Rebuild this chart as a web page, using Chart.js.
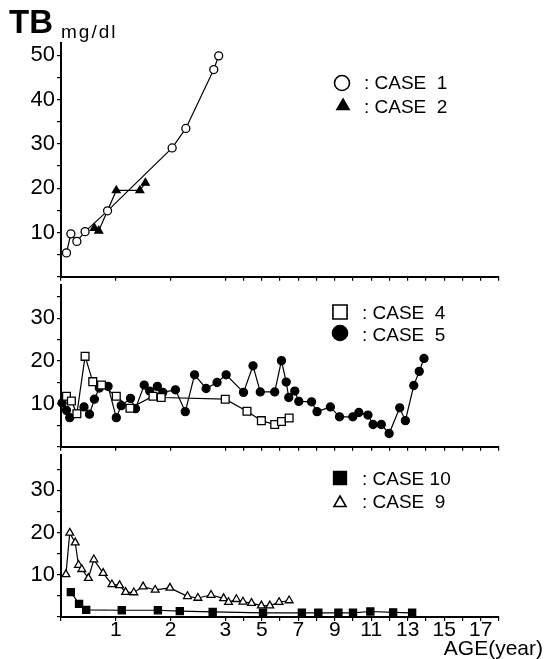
<!DOCTYPE html>
<html>
<head>
<meta charset="utf-8">
<title>TB by age</title>
<script src="https://cdn.jsdelivr.net/npm/chart.js@4.4.1/dist/chart.umd.min.js"></script>
<style>
  html, body { margin: 0; padding: 0; background: #fff; }
  #wrap { position: relative; width: 545px; height: 659px; overflow: hidden; }
  #wrap canvas { position: absolute; left: 0; }
</style>
</head>
<body>
<div id="wrap">
  <canvas id="panel-top" width="545" height="292" style="top:0px"></canvas>
  <canvas id="panel-mid" width="545" height="192" style="top:270px"></canvas>
  <canvas id="panel-bot" width="545" height="219" style="top:440px"></canvas>
</div>
<script>
// ---- DATA (age in years, TB in mg/dl) ----
const CASE1_AGE = [0.10, 0.18, 0.29, 0.44, 0.85, 2.03, 2.28, 2.79, 2.88];
const CASE1_TB  = [5.4, 9.7, 8.0, 10.2, 14.9, 29.1, 33.5, 46.8, 49.9];

const CASE2_AGE = [0.61, 0.69, 1.01, 1.44, 1.54];
const CASE2_TB  = [11.0, 10.4, 19.5, 19.5, 21.2];

const CASE4_AGE = [0.10, 0.19, 0.29, 0.44, 0.58, 0.74, 1.01, 1.26, 1.68, 1.83, 3.00, 4.19, 4.98, 5.71, 6.08, 6.50];
const CASE4_TB  = [11.8, 10.7, 7.7, 21.1, 15.2, 14.4, 11.8, 9.0, 11.8, 11.5, 11.1, 8.3, 6.1, 5.2, 5.9, 6.7];

const CASE5_AGE = [0.02, 0.10, 0.16, 0.42, 0.52, 0.61, 0.70, 0.86, 1.01, 1.10, 1.27, 1.36, 1.52, 1.62, 1.76, 1.86,
                   2.09, 2.27, 2.44, 2.65, 2.85, 3.05, 4.00, 4.52, 4.92, 5.71, 6.08, 6.34, 6.48, 6.81, 7.03, 7.73,
                   8.03, 8.76, 9.26, 9.99, 10.32, 10.82, 11.10, 11.55, 11.98, 12.56, 12.87, 13.33, 13.63, 13.89];
const CASE5_TB  = [10.2, 8.5, 6.8, 9.3, 7.6, 11.1, 13.7, 14.1, 6.8, 9.6, 11.3, 8.9, 14.4, 13.0, 14.1, 12.7,
                   13.3, 8.2, 16.8, 13.6, 15.0, 16.8, 12.7, 18.9, 12.8, 12.8, 20.1, 15.1, 11.5, 13.0, 10.6, 10.5,
                   8.2, 9.3, 7.0, 7.0, 8.0, 7.4, 5.2, 5.2, 3.1, 9.1, 6.1, 14.3, 17.6, 20.6];

const CASE9_AGE = [0.09, 0.16, 0.26, 0.32, 0.38, 0.50, 0.60, 0.77, 0.93, 1.07, 1.18, 1.33, 1.50, 1.72, 1.99,
                   2.31, 2.50, 2.74, 2.97, 3.18, 3.61, 3.97, 4.44, 4.98, 5.44, 5.95, 6.50];
const CASE9_TB  = [10.1, 19.9, 17.6, 12.3, 11.3, 9.2, 13.6, 10.4, 7.7, 7.5, 5.9, 5.8, 7.2, 6.4, 6.9,
                   4.9, 4.5, 5.2, 4.4, 3.5, 4.2, 3.6, 3.3, 2.7, 2.7, 3.5, 3.9];

const CASE10_AGE = [0.18, 0.33, 0.46, 1.11, 1.77, 2.17, 2.77, 5.07, 7.2, 8.1, 9.2, 10.0, 10.95, 12.2, 13.24];
const CASE10_TB  = [5.9, 3.1, 1.7, 1.6, 1.6, 1.4, 1.2, 1.0, 1.0, 1.0, 1.0, 1.0, 1.3, 1.1, 1.0];

const AGE_TICK_LABELS = [1, 2, 3, 5, 7, 9, 11, 13, 15, 17];

// ---- STYLE ----
const FONT = "'Liberation Sans', Arial, Helvetica, sans-serif";
const AXIS_LEFT = 61;
const PAD_RIGHT = 46;

// ---- AGE SCALE: first 3 years drawn 3x wider ----
const BREAK_AGE = 3;
const EARLY_STRETCH = 3;
function warpAge(a) {
  return a <= BREAK_AGE ? a * EARLY_STRETCH : BREAK_AGE * EARLY_STRETCH + (a - BREAK_AGE);
}
function unwarpAge(u) {
  const b = BREAK_AGE * EARLY_STRETCH;
  return u <= b ? u / EARLY_STRETCH : BREAK_AGE + (u - b);
}

class AgeScale extends Chart.LinearScale {
  static id = 'age';
  static defaults = {};
  getPixelForValue(value) {
    if (value === null || value === undefined || isNaN(value)) return NaN;
    const lo = warpAge(this.min), span = warpAge(this.max) - lo;
    return this.getPixelForDecimal((warpAge(value) - lo) / span);
  }
  getValueForPixel(pixel) {
    const lo = warpAge(this.min), span = warpAge(this.max) - lo;
    return unwarpAge(lo + this.getDecimalForPixel(pixel) * span);
  }
}
Chart.register(AgeScale);

function pairs(xs, ys) {
  return xs.map((x, i) => ({ x: x, y: ys[i] }));
}

function series(label, xs, ys, style, filled, radius) {
  return {
    label: label,
    data: pairs(xs, ys),
    borderColor: '#000',
    borderWidth: 1.2,
    pointStyle: style,
    pointRadius: radius,
    pointBackgroundColor: filled ? '#000' : '#fff',
    pointBorderColor: '#000',
    pointBorderWidth: 1.3,
    tension: 0,
    clip: false,
  };
}

// legend + free text drawn on the canvas (page coords, shifted by canvas top)
function panelText(offsetTop, items, texts) {
  return {
    id: 'panelText',
    afterDraw(chart) {
      const c = chart.ctx;
      c.save();
      items.forEach(it => {
        c.fillStyle = it.filled ? '#000' : '#fff';
        c.strokeStyle = '#000';
        c.lineWidth = 1.6;
        Chart.helpers.drawPoint(c, { pointStyle: it.style, radius: it.r, borderWidth: 1.6, rotation: 0 },
          it.x, it.y - offsetTop);
        c.fillStyle = '#000';
        c.font = '19px ' + FONT;
        c.textAlign = 'left';
        c.textBaseline = 'alphabetic';
        c.fillText(it.text, it.tx, it.ty - offsetTop);
      });
      texts.forEach(t => {
        c.fillStyle = '#000';
        c.font = t.font;
        c.textAlign = t.align || 'left';
        c.textBaseline = 'alphabetic';
        c.letterSpacing = t.spacing || '0px';
        c.fillText(t.text, t.x, t.y - offsetTop);
      });
      c.restore();
    },
  };
}

function makePanel(id, offsetTop, cfg) {
  const canvas = document.getElementById(id);
  return new Chart(canvas.getContext('2d'), {
    type: 'line',
    data: { datasets: cfg.datasets },
    options: {
      responsive: false,
      animation: false,
      events: [],
      layout: { padding: { top: cfg.padTop, right: PAD_RIGHT, left: 0, bottom: 0 } },
      plugins: { legend: { display: false }, tooltip: { enabled: false } },
      scales: {
        x: {
          type: 'age',
          min: 0,
          max: 18,
          afterFit(s) { s.height = cfg.xHeight; },
          border: { color: '#000', width: 2 },
          grid: { drawOnChartArea: false, drawTicks: true, tickLength: 4, color: '#000', lineWidth: 1.2 },
          ticks: {
            display: cfg.showAgeLabels,
            stepSize: 1,
            includeBounds: false,
            autoSkip: false,
            maxRotation: 0,
            padding: -3,
            color: '#000',
            font: { family: FONT, size: 21 },
            callback: v => AGE_TICK_LABELS.includes(v) ? String(v) : '',
          },
        },
        y: {
          type: 'linear',
          min: 0,
          max: cfg.yMax,
          afterFit(s) { s.width = AXIS_LEFT; },
          border: { color: '#000', width: 2 },
          grid: { drawOnChartArea: false, drawTicks: true, tickLength: 4, color: '#000', lineWidth: 1.2 },
          ticks: {
            stepSize: 5,
            includeBounds: false,
            autoSkip: false,
            padding: 2,
            color: '#000',
            font: { family: FONT, size: 22 },
            callback: v => (v > 0 && v % 10 === 0) ? String(v) : '',
          },
        },
      },
    },
    plugins: [panelText(offsetTop, cfg.legend, cfg.texts || [])],
  });
}

// ---- TOP: case 1 / case 2 ----
makePanel('panel-top', 0, {
  padTop: 43, xHeight: 13, yMax: 52.8, showAgeLabels: false,
  datasets: [
    series('CASE 1', CASE1_AGE, CASE1_TB, 'circle', false, 4),
    series('CASE 2', CASE2_AGE, CASE2_TB, 'triangle', true, 4.5),
  ],
  legend: [
    { style: 'circle', filled: false, r: 7.5, x: 342, y: 83, text: ': CASE  1', tx: 364, ty: 89 },
    { style: 'triangle', filled: true, r: 7, x: 343, y: 106, text: ': CASE  2', tx: 364, ty: 113 },
  ],
  texts: [
    { text: 'TB', x: 9, y: 33, font: 'bold 33px ' + FONT },
    { text: 'mg/dl', x: 61, y: 38, font: '19px ' + FONT, spacing: '2px' },
  ],
});

// ---- MIDDLE: case 4 / case 5 ----
makePanel('panel-mid', 270, {
  padTop: 9, xHeight: 11, yMax: 37.7, showAgeLabels: false,
  datasets: [
    series('CASE 4', CASE4_AGE, CASE4_TB, 'rect', false, 5.5),
    series('CASE 5', CASE5_AGE, CASE5_TB, 'circle', true, 4),
  ],
  legend: [
    { style: 'rect', filled: false, r: 10, x: 340, y: 312, text: ': CASE  4', tx: 362, ty: 319 },
    { style: 'circle', filled: true, r: 7.5, x: 340, y: 333, text: ': CASE  5', tx: 362, ty: 341 },
  ],
});

// ---- BOTTOM: case 10 / case 9 ----
makePanel('panel-bot', 440, {
  padTop: 11, xHeight: 42, yMax: 38.3, showAgeLabels: true,
  datasets: [
    series('CASE 10', CASE10_AGE, CASE10_TB, 'rect', true, 5),
    series('CASE 9', CASE9_AGE, CASE9_TB, 'triangle', false, 4.5),
  ],
  legend: [
    { style: 'rect', filled: true, r: 9, x: 340, y: 478, text: ': CASE 10', tx: 362, ty: 485 },
    { style: 'triangle', filled: false, r: 7, x: 340, y: 503, text: ': CASE  9', tx: 362, ty: 508 },
  ],
  texts: [
    { text: 'AGE(year)', x: 543, y: 655, font: '21px ' + FONT, align: 'right' },
  ],
});
</script>
</body>
</html>
